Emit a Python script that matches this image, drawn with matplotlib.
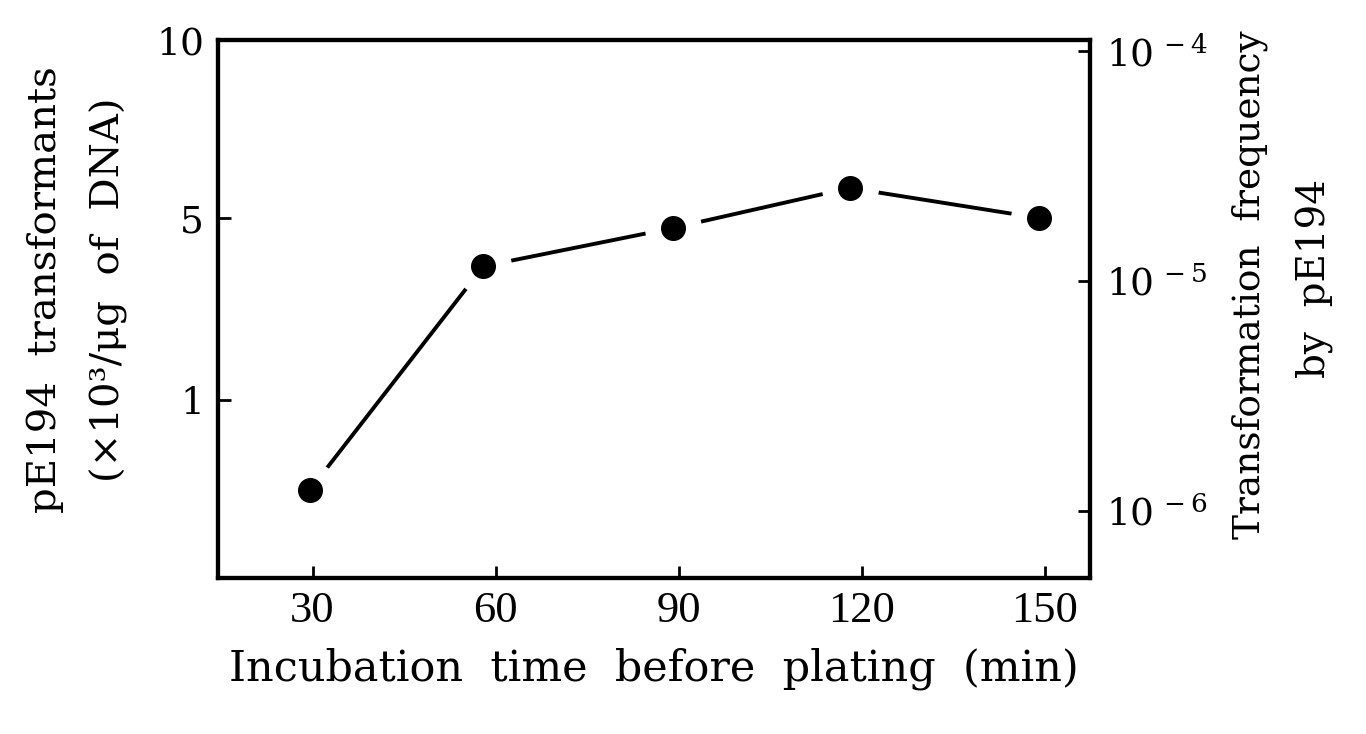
import numpy as np
import matplotlib
matplotlib.use("Agg")
import matplotlib.pyplot as plt

plt.rcParams['font.family'] = ['DejaVu Serif']
plt.rcParams['mathtext.fontset'] = 'dejavuserif'

# data
time_min = [29.5, 58, 89, 118, 149]
freq = [1.23e-6, 1.16e-5, 1.70e-5, 2.54e-5, 1.88e-5]

x_ticks = [30, 60, 90, 120, 150]
right_ticks = [1e-4, 1e-5, 1e-6]
right_labels = [r'10$^{\,-4}$', r'10$^{\,-5}$', r'10$^{\,-6}$']
# left axis labels (transformants x10^3/ug) sit at these frequency heights
left_ticks = [10 ** -3.952, 10 ** -4.726, 10 ** -5.517]
left_labels = ['10', '5', '1']

fig = plt.figure(figsize=(13.66, 7.34), dpi=100)
ax = fig.add_axes([0.1596, 0.2125, 0.638, 0.733])
ax.set_yscale('log')
ax.set_xlim(14.5, 157.3)
ax.set_ylim(10 ** -6.291, 10 ** -3.952)

ax.plot(time_min, freq, color='black', lw=2.8, zorder=2)
ax.plot(time_min, freq, 'o', color='white', ms=40, zorder=3)
ax.plot(time_min, freq, 'o', color='black', ms=17, zorder=4)

ax.set_xticks(x_ticks)
ax.set_xticklabels([str(t) for t in x_ticks], family='Liberation Serif', fontsize=32)
ax.set_yticks(left_ticks)
ax.set_yticklabels(left_labels, fontsize=27)
ax.yaxis.set_minor_locator(matplotlib.ticker.NullLocator())
ax.tick_params(direction='in', length=9, width=2, pad=10)
ax.tick_params(axis='x', pad=9)

ax2 = ax.twinx()
ax2.set_position(ax.get_position())
ax2.set_yscale('log')
ax2.set_ylim(ax.get_ylim())
ax2.set_yticks(right_ticks)
ax2.set_yticklabels(right_labels, fontsize=27)
ax2.yaxis.set_minor_locator(matplotlib.ticker.NullLocator())
ax2.tick_params(direction='in', length=9, width=2, pad=12)

for a in (ax, ax2):
    for s in a.spines.values():
        s.set_linewidth(3)

ax.set_xlabel('Incubation  time  before  plating  (min)', fontsize=31, labelpad=12)

fig.text(0.033, 0.605, 'pE194  transformants', rotation=90, fontsize=29,
         ha='center', va='center')
fig.text(0.080, 0.605, '(×10³/μg  of  DNA)', rotation=90, fontsize=29,
         ha='center', va='center')
fig.text(0.915, 0.612, 'Transformation  frequency', rotation=90, fontsize=27,
         ha='center', va='center')
fig.text(0.963, 0.620, 'by  pE194', rotation=90, fontsize=28,
         ha='center', va='center')

fig.savefig('out.png', dpi=100)
